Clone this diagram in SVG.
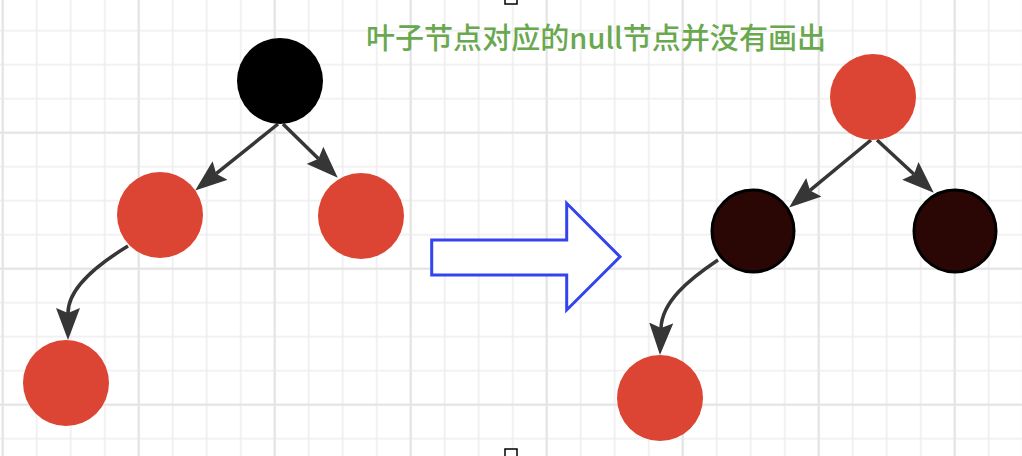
<svg xmlns="http://www.w3.org/2000/svg" width="1022" height="456" viewBox="0 0 1022 456">
<style>
.red{fill:#dc4533;}
.blk{fill:#000;}
.dark{fill:#2a0604;stroke:#000;stroke-width:3;}
.edge{fill:none;stroke:#363636;stroke-width:3.5;marker-end:url(#ah);}
.lbl{font-family:"Noto Sans CJK SC","Noto Sans",sans-serif;font-size:29px;font-weight:500;fill:#6aa84f;}
.handle{fill:#fff;stroke:#000;stroke-width:1.5;}
</style>
<defs>
<pattern id="gMinor" patternUnits="userSpaceOnUse" x="-14.3" y="-20.3" width="34" height="34">
<path d="M17,0V34M0,17H34" stroke="#eeeeee" stroke-width="1.6" fill="none"/>
</pattern>
<pattern id="gMajor" patternUnits="userSpaceOnUse" x="-65.3" y="-71.3" width="136" height="136">
<path d="M68,0V136M0,68H136" stroke="#e4e4e4" stroke-width="2" fill="none"/>
</pattern>
<marker id="ah" viewBox="0 0 32 24" refX="5" refY="12" markerWidth="32" markerHeight="24" markerUnits="userSpaceOnUse" orient="auto">
<path d="M0,0L32,12L0,24L5,12Z" fill="#363636"/>
</marker>
</defs>
<rect width="1022" height="456" fill="#fff"/>
<rect width="1022" height="456" fill="url(#gMinor)"/>
<rect width="1022" height="456" fill="url(#gMajor)"/>

<g id="connectors">
<path class="edge" d="M278,124L216.2,173.7"/>
<path class="edge" d="M283,124L318.5,158.8"/>
<path class="edge" d="M128,246C92,268 68,290 68,313"/>
<path class="edge" d="M871,140L810,190.4"/>
<path class="edge" d="M877,140L914,174.3"/>
<path class="edge" d="M718,260C688,280 662,302 661,328"/>
</g>

<g id="n-left-root"><circle class="blk" cx="280" cy="81" r="43"/></g>
<g id="n-left-l"><circle class="red" cx="160" cy="215" r="43"/></g>
<g id="n-left-r"><circle class="red" cx="361" cy="216" r="43"/></g>
<g id="n-left-ll"><circle class="red" cx="66" cy="383" r="43"/></g>

<g id="transform-arrow">
<path d="M431.7,240H566.7V203.3L620,256.7L566.7,310V275H431.7Z" fill="#fff" stroke="#3344ee" stroke-width="3" stroke-linejoin="miter"/>
</g>

<g id="n-right-root"><circle class="red" cx="873" cy="97" r="43"/></g>
<g id="n-right-l"><circle class="dark" cx="753" cy="231" r="41"/></g>
<g id="n-right-r"><circle class="dark" cx="955" cy="231" r="41"/></g>
<g id="n-right-ll"><circle class="red" cx="660" cy="398" r="43"/></g>

<g id="label">
<text class="lbl" x="366" y="49" textLength="460" lengthAdjust="spacing">叶子节点对应的null节点并没有画出</text>
</g>

<g id="handles">
<rect class="handle" x="505" y="-4" width="12" height="8"/>
<rect class="handle" x="505" y="449" width="12" height="10"/>
</g>
</svg>
